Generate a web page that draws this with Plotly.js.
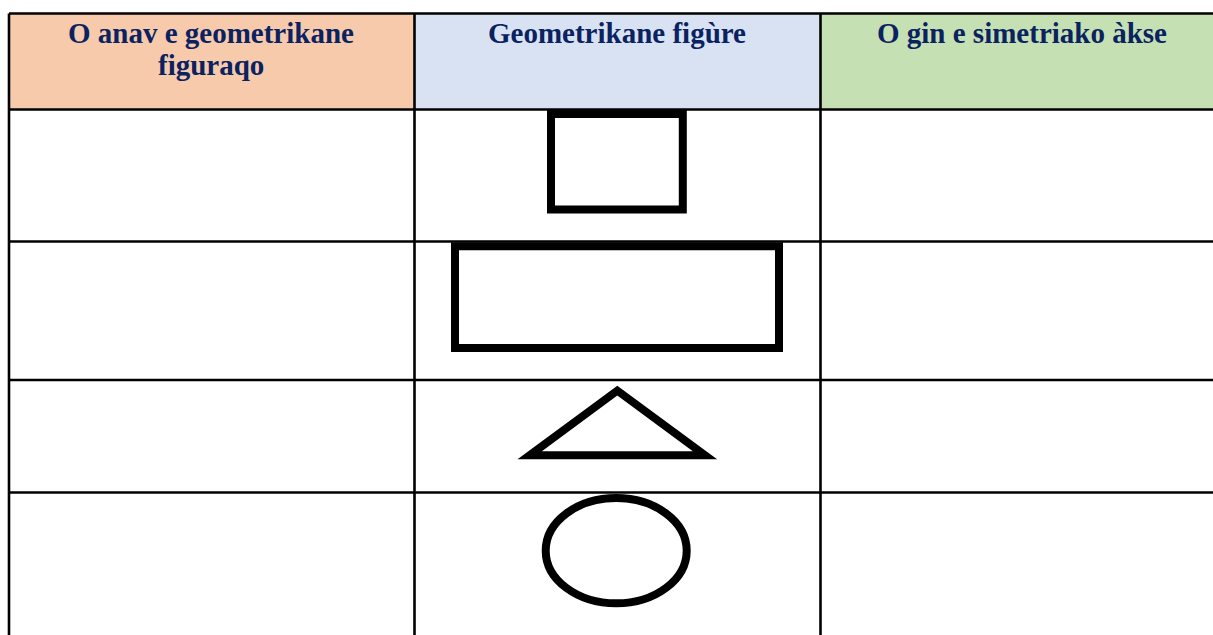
<!DOCTYPE html>
<html>
<head>
<meta charset="utf-8">
<script src="https://cdn.plot.ly/plotly-3.0.1.min.js"></script>
<style>html,body{margin:0;padding:0;background:#fff;}#chart{width:1213px;height:635px;}</style>
</head>
<body>
<div id="chart"></div>
<script>
// ---- data ----
const headerLines = [
  ["O anav e geometrikane", "figuraqo"],
  ["Geometrikane figùre"],
  ["O gin e simetriako àkse"]
];
const headerColors = ["#F7CAAC", "#D9E2F3", "#C5E0B3"];
const rowFigures = ["square", "rectangle", "triangle", "ellipse"];
const firstColumn = ["", "", "", ""];
const lastColumn = ["", "", "", ""];

// ---- layout geometry (pixel space) ----
const W = 1213, H = 635;
const colEdges = [9, 414.5, 820.5, 1226];
const rowEdges = [13.5, 109.5, 241.5, 380, 492.5, 660];
const gridColor = "#000000";
const textColor = "#0b2260";
const fontSize = 29;
const lineGap = 32;
const firstLineMid = 33;

const figureGeom = {
  square:    {type: "rect", x0: 551, x1: 682.8, y0: 114, y1: 209.5},
  rectangle: {type: "rect", x0: 455, x1: 779, y0: 246.3, y1: 348},
  triangle:  {type: "path", pts: [[529.7, 455.3], [617.3, 390.6], [705, 455.3]]},
  ellipse:   {type: "circle", x0: 545.7, x1: 686.7, y0: 498, y1: 603.3}
};

const shapes = [];
// header fills
headerColors.forEach((c, i) => {
  shapes.push({type: "rect", xref: "x", yref: "y", x0: colEdges[i], x1: colEdges[i + 1],
    y0: rowEdges[0], y1: rowEdges[1], fillcolor: c, line: {width: 0}, layer: "below"});
});
// horizontal grid lines
rowEdges.slice(0, 5).forEach(y => {
  shapes.push({type: "line", xref: "x", yref: "y", x0: colEdges[0], x1: colEdges[3], y0: y, y1: y,
    line: {color: gridColor, width: 2.6}});
});
// vertical grid lines
colEdges.forEach(x => {
  shapes.push({type: "line", xref: "x", yref: "y", x0: x, x1: x, y0: rowEdges[0], y1: rowEdges[5],
    line: {color: gridColor, width: 2.6}});
});
// figures
rowFigures.forEach(name => {
  const g = figureGeom[name];
  const line = {color: "#000000", width: 8};
  if (g.type === "path") {
    const p = g.pts;
    const path = "M " + p.map(q => q[0] + " " + q[1]).join(" L ") + " Z";
    shapes.push({type: "path", xref: "x", yref: "y", path: path, line: line, fillcolor: "rgba(0,0,0,0)", layer: "above"});
  } else {
    shapes.push({type: g.type, xref: "x", yref: "y", x0: g.x0, x1: g.x1, y0: g.y0, y1: g.y1,
      line: line, fillcolor: "rgba(0,0,0,0)", layer: "above"});
  }
});

const annotations = [];
headerLines.forEach((lines, i) => {
  const cx = (colEdges[i] + colEdges[i + 1]) / 2 - (i === 2 ? 0 : 0.5);
  lines.forEach((t, k) => {
    annotations.push({xref: "x", yref: "y", x: i === 2 ? 1022 : cx, y: firstLineMid + k * lineGap,
      text: "<b>" + t + "</b>", showarrow: false, xanchor: "center", yanchor: "middle",
      font: {family: "Liberation Serif, Times New Roman, serif", size: fontSize, color: textColor}});
  });
});

const layout = {
  width: W, height: H,
  margin: {l: 0, r: 0, t: 0, b: 0},
  paper_bgcolor: "#ffffff", plot_bgcolor: "#ffffff",
  showlegend: false,
  xaxis: {range: [0, W], visible: false, fixedrange: true},
  yaxis: {range: [H, 0], visible: false, fixedrange: true},
  shapes: shapes,
  annotations: annotations
};

Plotly.newPlot("chart", [{x: [], y: [], type: "scatter", mode: "markers", hoverinfo: "skip"}], layout,
  {staticPlot: true, displayModeBar: false});
</script>
</body>
</html>
